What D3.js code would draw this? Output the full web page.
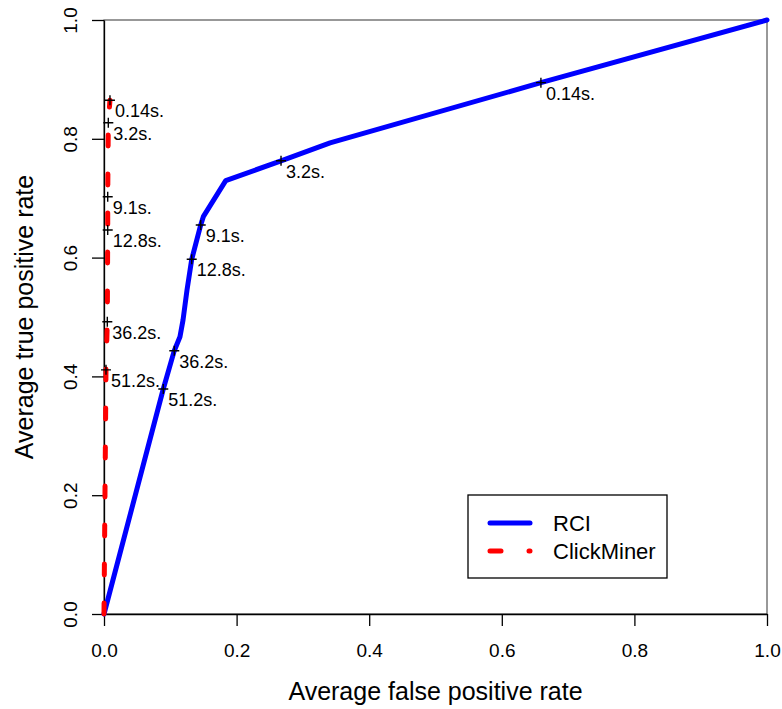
<!DOCTYPE html>
<html>
<head>
<meta charset="utf-8">
<script src="https://cdn.jsdelivr.net/npm/d3@7"></script>
<style>
  body { margin: 0; background: #fff; }
  svg { display: block; font-family: "Liberation Sans", Arial, Helvetica, sans-serif; }
</style>
</head>
<body>
<script>
// ROC points
var rciFpr = [0, 0.0894, 0.106, 0.1146, 0.1192, 0.1252, 0.1323, 0.1459, 0.1498, 0.1836, 0.267, 0.341, 0.659, 1];
var rciTpr = [0, 0.3788, 0.4433, 0.4668, 0.495, 0.5455, 0.5971, 0.6549, 0.6689, 0.7295, 0.763, 0.793, 0.8945, 1];

var cmFpr = [0, 0.003, 0.005, 0.0056, 0.0056, 0.0065, 0.009];
var cmTpr = [0, 0.411, 0.492, 0.6465, 0.7025, 0.827, 0.865];

// threshold markers
var markLabels = ["0.14s.", "3.2s.", "9.1s.", "12.8s.", "36.2s.", "51.2s."];
var rciMarkFpr = [0.659, 0.267, 0.1459, 0.1323, 0.106, 0.0894];
var rciMarkTpr = [0.8945, 0.763, 0.6549, 0.5971, 0.4433, 0.3788];
var cmMarkFpr = [0.009, 0.0065, 0.0056, 0.0056, 0.005, 0.003];
var cmMarkTpr = [0.865, 0.827, 0.7025, 0.6465, 0.492, 0.411];

var xTicks = [0, 0.2, 0.4, 0.6, 0.8, 1.0];
var yTicks = [0, 0.2, 0.4, 0.6, 0.8, 1.0];

var seriesNames = ["RCI", "ClickMiner"];
var seriesColors = ["#0000ff", "#ff0000"];

var svgWidth = 782;
var svgHeight = 709;

var svg = d3.select("body")
    .append("svg")
    .attr("width", svgWidth)
    .attr("height", svgHeight);

var x = d3.scaleLinear().domain([0, 1]).range([104, 767]);
var y = d3.scaleLinear().domain([0, 1]).range([614, 20]);

// box
svg.append("rect")
    .attr("x", x(0))
    .attr("y", y(1))
    .attr("width", x(1) - x(0))
    .attr("height", y(0) - y(1))
    .attr("fill", "none")
    .attr("stroke", "#333")
    .attr("stroke-width", 1);

var fmt = d3.format(".1f");

// x axis
var xAxis = svg.append("g")
    .attr("transform", `translate(0, ${y(0)})`)
    .call(d3.axisBottom(x).tickValues(xTicks).tickFormat(fmt).tickSize(12).tickSizeOuter(0));
xAxis.selectAll("path, line").attr("stroke", "#000").attr("stroke-width", 1.3);
xAxis.selectAll("text")
    .attr("y", 43)
    .attr("dy", null)
    .attr("fill", "#000")
    .style("font-size", "19px")
    .style("font-family", "Liberation Sans, Arial, sans-serif");

// y axis
var yAxis = svg.append("g")
    .attr("transform", `translate(${x(0)}, 0)`)
    .call(d3.axisLeft(y).tickValues(yTicks).tickFormat(fmt).tickSize(12).tickSizeOuter(0));
yAxis.selectAll("path, line").attr("stroke", "#000").attr("stroke-width", 1.3);
yAxis.selectAll("text")
    .attr("x", 0)
    .attr("dy", null)
    .attr("text-anchor", "middle")
    .attr("transform", "translate(-27, 0) rotate(-90)")
    .attr("fill", "#000")
    .style("font-size", "19px")
    .style("font-family", "Liberation Sans, Arial, sans-serif");

// axis titles
svg.append("text")
    .attr("x", (x(0) + x(1)) / 2)
    .attr("y", 700)
    .attr("text-anchor", "middle")
    .style("font-size", "25px")
    .text("Average false positive rate");

svg.append("text")
    .attr("transform", `translate(33, ${(y(0) + y(1)) / 2}) rotate(-90)`)
    .attr("text-anchor", "middle")
    .style("font-size", "25px")
    .text("Average true positive rate");

// lines
var line = d3.line()
    .x(function (d) { return x(d[0]); })
    .y(function (d) { return y(d[1]); });

var rciPts = rciFpr.map(function (v, i) { return [v, rciTpr[i]]; });
var cmPts = cmFpr.map(function (v, i) { return [v, cmTpr[i]]; });

svg.append("path")
    .datum(rciPts)
    .attr("d", line)
    .attr("fill", "none")
    .attr("stroke", seriesColors[0])
    .attr("stroke-width", 5)
    .attr("stroke-linejoin", "round")
    .attr("stroke-linecap", "round");

svg.append("path")
    .datum(cmPts)
    .attr("d", line)
    .attr("fill", "none")
    .attr("stroke", seriesColors[1])
    .attr("stroke-width", 5)
    .attr("stroke-dasharray", "11,28")
    .attr("stroke-linejoin", "round")
    .attr("stroke-linecap", "round");

// markers + labels
function drawMarks(fprs, tprs) {
    var g = svg.append("g");
    fprs.forEach(function (f, i) {
        var px = x(f), py = y(tprs[i]);
        g.append("path")
            .attr("d", `M${px - 5},${py}H${px + 5}M${px},${py - 5}V${py + 5}`)
            .attr("stroke", "#000")
            .attr("stroke-width", 1.4);
        g.append("text")
            .attr("x", px + 5)
            .attr("y", py + 17)
            .style("font-size", "18px")
            .text(markLabels[i]);
    });
}
drawMarks(rciMarkFpr, rciMarkTpr);
drawMarks(cmMarkFpr, cmMarkTpr);

// legend
var legend = svg.append("g");
legend.append("rect")
    .attr("x", 468)
    .attr("y", 495)
    .attr("width", 199)
    .attr("height", 83)
    .attr("fill", "#fff")
    .attr("stroke", "#000")
    .attr("stroke-width", 1.3);

seriesNames.forEach(function (name, i) {
    var ly = 523 + i * 28;
    legend.append("line")
        .attr("x1", 490)
        .attr("x2", 530)
        .attr("y1", ly)
        .attr("y2", ly)
        .attr("stroke", seriesColors[i])
        .attr("stroke-width", 5)
        .attr("stroke-linecap", "round")
        .attr("stroke-dasharray", i === 1 ? "11,28" : null);
    legend.append("text")
        .attr("x", 553)
        .attr("y", ly + 8)
        .style("font-size", "22px")
        .text(name);
});
</script>
</body>
</html>
